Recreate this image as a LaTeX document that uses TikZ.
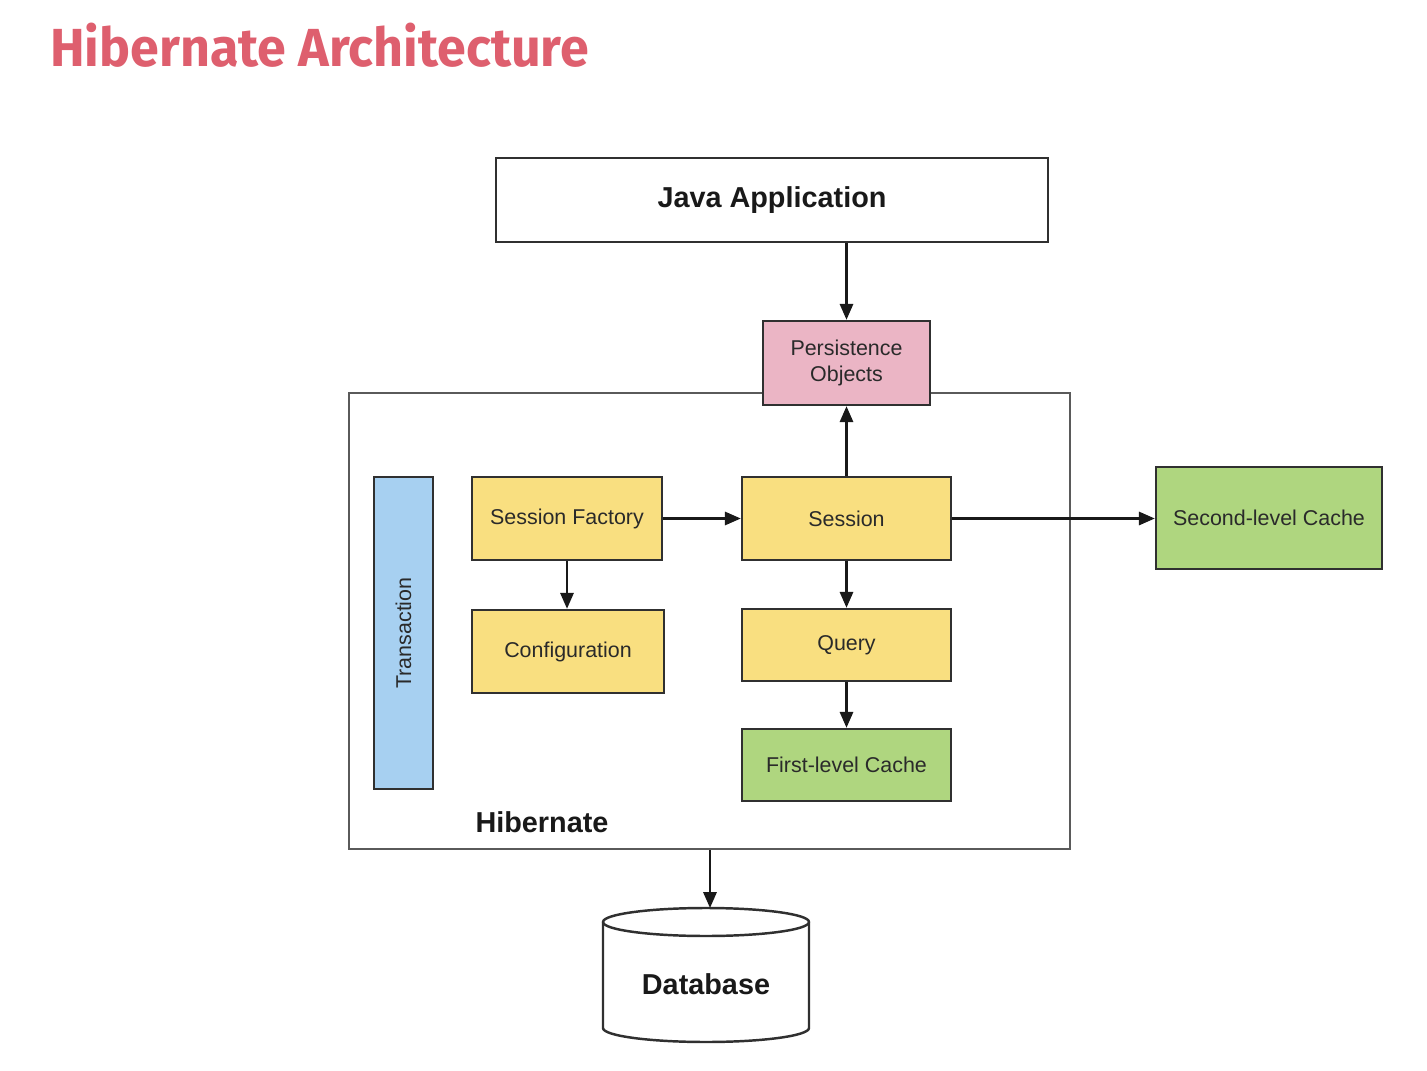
\documentclass[tikz,border=0pt]{standalone}
\usepackage{fontspec}
\setmainfont{Liberation Sans}
\newfontfamily\titlefont{Fira Sans}
\usetikzlibrary{arrows.meta}
\definecolor{titlered}{HTML}{DE5F6E}
\definecolor{boxline}{HTML}{303030}
\definecolor{outerline}{HTML}{5A5A5A}
\definecolor{txt}{HTML}{2A2A2A}
\definecolor{yellowfill}{HTML}{F9DF80}
\definecolor{greenfill}{HTML}{AFD67F}
\definecolor{pinkfill}{HTML}{EBB5C5}
\definecolor{bluefill}{HTML}{A7D0F1}
\tikzset{
  box/.style={draw=boxline, line width=1.4pt, inner sep=0pt, align=center,
    text=txt, font=\fontsize{12.2}{14.7}\selectfont},
  ybox/.style={box, fill=yellowfill},
  gbox/.style={box, fill=greenfill},
  conn/.style={draw=black!90, line width=1.3pt, -{Triangle[length=9pt,width=7.5pt]}},
  bigbold/.style={font=\fontsize{16.4}{19}\selectfont\bfseries, text=black!90}
}
\begin{document}
\begin{tikzpicture}[x=0.02cm, y=-0.02cm]
\useasboundingbox (0,0) rectangle (1427,1071);
% title
\node[anchor=base west, inner sep=0pt, text=titlered, font=\titlefont\fontsize{30.5}{34}\selectfont\bfseries] (title) at (50,67) {\scalebox{0.97}[1]{Hibernate Architecture}};
% outer hibernate box
\node[draw=outerline, line width=1.4pt, minimum width=14.42cm, minimum height=9.12cm, inner sep=0pt] (hib) at (709.5,621) {};
\node[bigbold, anchor=base, inner sep=0pt] (hiblabel) at (542,832) {Hibernate};
% java application
\node[box, fill=white, minimum width=11.04cm, minimum height=1.68cm, bigbold] (java) at (772,200) {Java Application};
% persistence objects
\node[box, fill=pinkfill, minimum width=3.34cm, minimum height=1.68cm] (pers) at (846.5,363) {Persistence\\Objects};
% transaction
\node[box, fill=bluefill, minimum width=1.18cm, minimum height=6.24cm] (trans) at (403.5,633) {};
\node[rotate=90, text=txt, font=\fontsize{12.2}{14.7}\selectfont, inner sep=0pt] (translabel) at (trans.center) {Transaction};
% yellow boxes
\node[ybox, minimum width=3.8cm, minimum height=1.66cm] (sf) at (567,518.5) {Session Factory};
\node[ybox, minimum width=3.84cm, minimum height=1.66cm] (conf) at (568,651.5) {Configuration};
\node[ybox, minimum width=4.18cm, minimum height=1.66cm] (sess) at (846.5,518.5) {Session};
\node[ybox, minimum width=4.18cm, minimum height=1.44cm] (query) at (846.5,645) {Query};
% green boxes
\node[gbox, minimum width=4.18cm, minimum height=1.44cm] (flc) at (846.5,765) {First-level Cache};
\node[gbox, minimum width=4.52cm, minimum height=2.04cm] (slc) at (1269,518) {Second-level Cache};
% database cylinder
\draw[draw=boxline, line width=1.4pt, fill=white]
  (603,922) -- (603,1028) arc[start angle=180, end angle=0, x radius=103, y radius=14]
  -- (809,922) arc[start angle=0, end angle=-180, x radius=103, y radius=14] -- cycle;
\draw[draw=boxline, line width=1.4pt] (603,922) arc[start angle=180, end angle=0, x radius=103, y radius=14];
\coordinate (dbtop) at (710,908);
\node[bigbold, inner sep=0pt] (db) at (706,984) {Database};
% connectors
\draw[conn] (java.south -| pers.north) -- (pers.north);
\draw[conn] (sess.north) -- (pers.south);
\draw[conn] (sf.east) -- (sess.west);
\draw[conn] (sf.south) -- (sf.south |- conf.north);
\draw[conn] (sess.south) -- (query.north);
\draw[conn] (query.south) -- (flc.north);
\draw[conn] (sess.east) -- (sess.east -| slc.west);
\draw[conn] (hib.south -| dbtop) -- (dbtop);
\end{tikzpicture}
\end{document}
